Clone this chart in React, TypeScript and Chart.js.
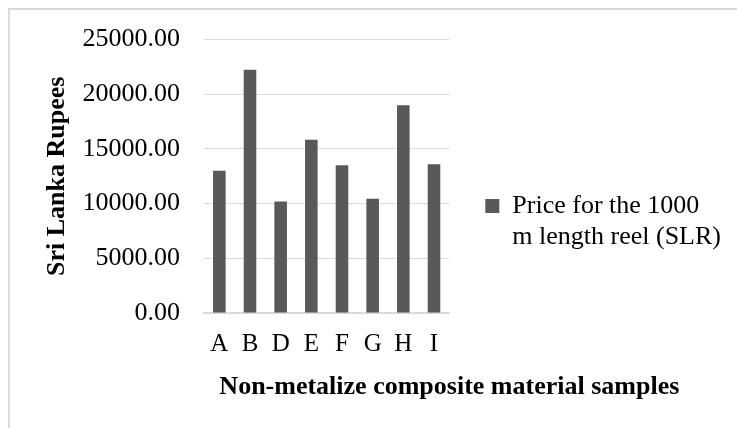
import React, { useEffect, useRef } from 'react';
import { Chart, registerables } from 'chart.js';

Chart.register(...registerables);

const categories = ['A', 'B', 'D', 'E', 'F', 'G', 'H', 'I'];
const prices = [13000, 22250, 10200, 15850, 13500, 10450, 19000, 13600];
const seriesName = 'Price for the 1000 m length reel (SLR)';
const legendLines = ['Price for the 1000', 'm length reel (SLR)'];
const yTickValues = [0, 5000, 10000, 15000, 20000, 25000];
const yTitle = 'Sri Lanka Rupees';
const xTitle = 'Non-metalize composite material samples';

const FAMILY = '"Liberation Serif", "Times New Roman", serif';
const BAR = '#595959';
const GRID = '#d9d9d9';

const xTitlePlugin = {
  id: 'xTitleCentered',
  afterDraw(chart: any) {
    const { ctx, chartArea } = chart;
    ctx.save();
    ctx.font = `bold 26px ${FAMILY}`;
    ctx.fillStyle = '#000';
    ctx.textAlign = 'center';
    ctx.textBaseline = 'alphabetic';
    ctx.fillText(xTitle, chartArea.right, chartArea.bottom + 81);
    ctx.restore();
  },
};

export default function App() {
  const ref = useRef<HTMLCanvasElement | null>(null);

  useEffect(() => {
    if (!ref.current) return;
    const chart = new Chart(ref.current, {
      type: 'bar',
      data: {
        labels: categories,
        datasets: [
          {
            label: seriesName,
            data: prices,
            backgroundColor: BAR,
            borderWidth: 0,
            barPercentage: 0.41,
            categoryPercentage: 1,
          },
        ],
      },
      plugins: [xTitlePlugin],
      options: {
        responsive: false,
        animation: false,
        devicePixelRatio: 1,
        font: { family: FAMILY },
        layout: { padding: { left: 41.3, right: 6, top: 38, bottom: 53 } },
        plugins: {
          tooltip: { enabled: false },
          legend: {
            position: 'right',
            fullSize: false,
            align: 'center',
            maxWidth: 320,
            title: {
              display: true,
              text: ' ',
              font: { size: 10, lineHeight: 1 },
              padding: { top: 85.8, bottom: 0 },
            },
            labels: {
              boxWidth: 14,
              boxHeight: 14,
              padding: 36,
              color: '#000',
              font: { family: FAMILY, size: 26, lineHeight: 1.2 },
              generateLabels: (c: any) => {
                const items = (Chart as any).defaults.plugins.legend.labels.generateLabels(c);
                return items.map((it: any) => ({ ...it, text: legendLines, lineWidth: 0 }));
              },
            },
          },
        },
        scales: {
          x: {
            grid: { display: false, drawTicks: false },
            border: { display: true, color: GRID, width: 2 },
            ticks: {
              color: '#000',
              padding: 16,
              font: { family: FAMILY, size: 25, lineHeight: 1.2 },
            },
          },
          y: {
            min: 0,
            max: 25000,
            afterBuildTicks: (scale: any) => {
              scale.ticks = yTickValues.map((v) => ({ value: v }));
            },
            grid: { color: GRID, lineWidth: 1, drawTicks: false },
            border: { display: false },
            ticks: {
              color: '#000',
              padding: 24,
              font: { family: FAMILY, size: 26, lineHeight: 1.2 },
              callback: (v: any) => Number(v).toFixed(2),
            },
            title: {
              display: true,
              text: yTitle,
              color: '#000',
              font: { family: FAMILY, size: 26, weight: 'bold', lineHeight: 1.2 },
              padding: { top: 0, bottom: -14 },
            },
          },
        },
      },
    });
    return () => chart.destroy();
  }, []);

  return (
    <div
      style={{
        position: 'fixed',
        left: 0,
        top: 0,
        width: 737,
        height: 428,
        background: '#fff',
        overflow: 'hidden',
      }}
    >
      <div
        style={{
          position: 'absolute',
          left: 8,
          top: 8,
          width: 800,
          height: 500,
          borderTop: `2px solid ${GRID}`,
          borderLeft: `2px solid ${GRID}`,
        }}
      />
      <canvas
        ref={ref}
        width={737}
        height={428}
        style={{ position: 'absolute', left: 0, top: 0, width: 737, height: 428 }}
      />
    </div>
  );
}
